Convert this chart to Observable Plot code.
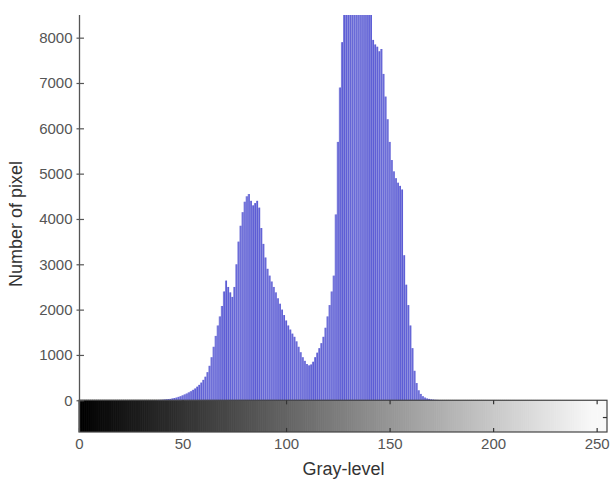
<!DOCTYPE html>
<html>
<head>
<meta charset="utf-8">
<script src="https://cdn.jsdelivr.net/npm/d3@7"></script>
<script src="https://cdn.jsdelivr.net/npm/@observablehq/plot@0.6"></script>
<style>
  html, body { margin: 0; padding: 0; background: #fff; }
  #chart { width: 610px; height: 482px; }
</style>
</head>
<body>
<div id="chart"></div>
<script>
// Histogram counts per gray level 0..255 (values above 8500 are clipped in the figure)
const counts = [
  0,0,0,0,0,0,0,0,0,0, 0,0,0,0,0,0,0,0,0,0,
  0,0,0,0,0,0,0,0,0,0, 0,0,0,0,0,0,0,0,5,8,
  10,15,20,25,30,40,50,60,75,90,
  110,130,150,175,200,230,260,300,340,390,
  450,520,620,760,950,1180,1420,1650,1850,2080,
  2400,2640,2500,2380,2280,2500,3000,3500,3850,4150,
  4380,4500,4550,4400,4300,4350,4400,4250,3800,3450,
  3150,2900,2750,2620,2500,2380,2250,2130,2000,1880,
  1760,1650,1560,1470,1400,1300,1180,1060,950,870,
  800,770,790,850,950,1050,1150,1260,1400,1600,
  1850,2100,2400,2750,4100,5700,6900,7900,9200,9600,
  10000,10300,10500,10400,10200,10000,9800,9500,9200,8900,
  8700,8600,7950,7850,7800,7700,7750,7200,6700,6200,
  5700,5300,5050,4900,4800,4730,4650,3200,2550,2100,
  1650,1150,650,380,220,140,90,60,40,30,
  20,15,10,8,5,3,0,0,0,0,
  0,0,0,0,0,0,0,0,0,0, 0,0,0,0,0,0,0,0,0,0,
  0,0,0,0,0,0,0,0,0,0, 0,0,0,0,0,0,0,0,0,0,
  0,0,0,0,0,0,0,0,0,0, 0,0,0,0,0,0,0,0,0,0,
  0,0,0,0,0,0,0,0,0,0, 0,0,0,0,0,0,0,0,0,0,
  0,0,0,0,0,0,0,0,0,0, 0,0,0,0,0,0
];
const grayLevels = d3.range(256);
const xTicks = [0, 50, 100, 150, 200, 250];
const yTicks = [0, 1000, 2000, 3000, 4000, 5000, 6000, 7000, 8000];
const xLabel = "Gray-level";
const yLabel = "Number of pixel";
const yTop = 8500;
const colorbarBottom = -700;

const bars = grayLevels.map(g => ({g, n: counts[g]}));
const nonzero = bars.filter(d => d.n > 0);

const font = "'Liberation Sans', Arial, sans-serif";
const grayOf = g => { const v = Math.min(248, g); return `rgb(${v},${v},${v})`; };

const chart = Plot.plot({
  width: 610,
  height: 482,
  marginLeft: 79,
  marginRight: 3,
  marginTop: 15,
  marginBottom: 50,
  style: {fontFamily: font, background: "#fff"},
  x: {domain: [0, 255]},
  y: {domain: [colorbarBottom, yTop]},
  color: {type: "identity"},
  marks: [
    // gray-level colorbar
    Plot.rect(grayLevels, {
      x1: g => Math.max(0, g - 0.5), x2: g => Math.min(255, g + 0.5),
      y1: colorbarBottom, y2: 0,
      fill: grayOf, stroke: grayOf, strokeWidth: 0.8,
      clip: true
    }),
    // histogram bars
    Plot.rectY(nonzero, {
      x1: d => d.g - 0.5, x2: d => d.g + 0.5, y: "n",
      fill: "#8182dc", clip: true
    }),
    Plot.ruleX(nonzero, {
      x: "g", y1: 0, y2: "n",
      stroke: "#2626cc", strokeOpacity: 0.45, strokeWidth: 0.9, clip: true
    }),
    // colorbar frame
    Plot.rect([0], {x1: 0, x2: 255, y1: colorbarBottom, y2: 0, fill: "none", stroke: "#444", strokeWidth: 1.2}),
    // colorbar inward ticks
    Plot.ruleX(xTicks, {x: d => d, y1: 0, y2: -90, stroke: "#333", strokeWidth: 1.2}),
    Plot.ruleX(xTicks, {x: d => d, y1: colorbarBottom, y2: colorbarBottom + 90, stroke: "#333", strokeWidth: 1.2}),
    Plot.ruleY([-370], {x1: 253, x2: 255, stroke: "#333", strokeWidth: 1.2}),
    // left axis line and ticks
    Plot.ruleX([0], {y1: colorbarBottom, y2: yTop, stroke: "#555", strokeWidth: 1.3}),
    Plot.ruleY(yTicks, {y: d => d, x1: -1.2, x2: 2.4, stroke: "#555", strokeWidth: 1.2}),
    Plot.axisY(yTicks, {
      tickSize: 0, tickPadding: 7, fontSize: 15, color: "#555", tickFormat: d3.format("d"),
      label: yLabel, labelAnchor: "center", labelArrow: "none", labelOffset: 70
    }),
    Plot.axisX(xTicks, {
      tickSize: 0, tickPadding: 6, fontSize: 15, color: "#555", tickFormat: d3.format("d"),
      label: xLabel, labelAnchor: "center", labelArrow: "none", labelOffset: 42
    })
  ]
});

// style axis labels larger and darker
chart.querySelectorAll("g[aria-label='y-axis label'] text, g[aria-label='x-axis label'] text").forEach(t => {
  t.setAttribute("font-size", "18");
  t.setAttribute("fill", "#333");
});
document.getElementById("chart").appendChild(chart);
</script>
</body>
</html>
